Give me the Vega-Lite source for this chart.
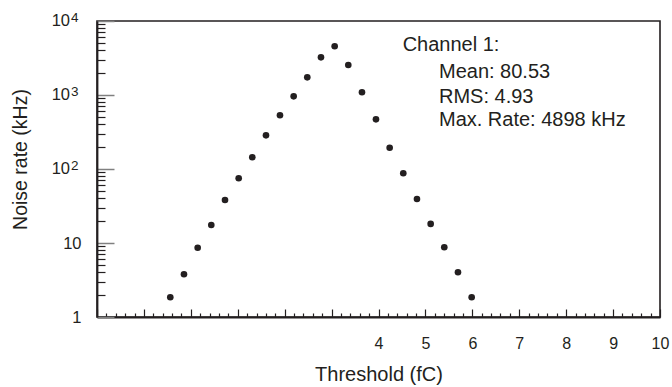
{
  "$schema": "https://vega.github.io/schema/vega-lite/v6.json",
  "width": 563,
  "height": 296,
  "autosize": {"type": "none"},
  "padding": {"left": 97, "top": 21, "right": 12, "bottom": 70},
  "background": "white",
  "config": {"view": {"stroke": "#231f20", "strokeWidth": 1.6}, "font": "Liberation Sans"},
  "datasets": {
    "points": [
      {"threshold": -0.438, "rate": 1.85},
      {"threshold": -0.146, "rate": 3.78},
      {"threshold": 0.146, "rate": 8.64},
      {"threshold": 0.436, "rate": 17.5},
      {"threshold": 0.728, "rate": 38.1},
      {"threshold": 1.020, "rate": 74.9},
      {"threshold": 1.310, "rate": 144},
      {"threshold": 1.602, "rate": 285},
      {"threshold": 1.900, "rate": 532},
      {"threshold": 2.192, "rate": 960},
      {"threshold": 2.482, "rate": 1734},
      {"threshold": 2.774, "rate": 3230},
      {"threshold": 3.066, "rate": 4550},
      {"threshold": 3.356, "rate": 2543},
      {"threshold": 3.648, "rate": 1088},
      {"threshold": 3.946, "rate": 469},
      {"threshold": 4.238, "rate": 194},
      {"threshold": 4.528, "rate": 87.5},
      {"threshold": 4.820, "rate": 39.3},
      {"threshold": 5.112, "rate": 18.1},
      {"threshold": 5.402, "rate": 8.75},
      {"threshold": 5.694, "rate": 4.02},
      {"threshold": 5.986, "rate": 1.85}
    ],
    "notes": [
      {"label": "Channel 1:", "x": 4.515, "y": 3970},
      {"label": "Mean: 80.53", "x": 5.289, "y": 1682},
      {"label": "RMS: 4.93", "x": 5.289, "y": 773},
      {"label": "Max. Rate: 4898 kHz", "x": 5.289, "y": 381}
    ],
    "powers": [
      {"v": 10000, "base": "10", "exp": "4"},
      {"v": 1000, "base": "10", "exp": "3"},
      {"v": 100, "base": "10", "exp": "2"}
    ]
  },
  "layer": [
    {
      "data": {"name": "points"},
      "mark": {"type": "circle", "size": 44, "color": "#231f20", "opacity": 1},
      "encoding": {
        "x": {
          "field": "threshold", "type": "quantitative",
          "scale": {"domain": [-2, 10], "nice": false, "zero": false},
          "axis": {
            "orient": "bottom", "grid": false,
            "values": [-2, -1, 0, 1, 2, 3, 4, 5, 6, 7, 8, 9, 10],
            "labelExpr": "datum.value >= 4 ? datum.label : ''",
            "tickSize": -8, "tickColor": "#231f20", "tickWidth": 1.2,
            "domainColor": "#231f20", "domainWidth": 1.8,
            "labelFont": "Liberation Sans", "labelFontSize": 16, "labelColor": "#231f20",
            "labelPadding": 26, "labelFlush": false, "labelOverlap": false, "labelBound": false,
            "title": "Threshold (fC)", "titleFont": "Liberation Sans", "titleFontSize": 20,
            "titleFontWeight": "normal", "titleColor": "#231f20",
            "titleY": 63, "titleBaseline": "alphabetic"
          }
        },
        "y": {
          "field": "rate", "type": "quantitative",
          "scale": {"type": "log", "domain": [1, 10000], "nice": false},
          "axis": {
            "orient": "left", "grid": false,
            "values": [1, 10, 100, 1000, 10000],
            "labelExpr": "datum.value == 10 ? '10' : datum.value == 1 ? '1' : ''",
            "tickSize": -17, "tickColor": "#808080", "tickWidth": 1.5,
            "domainColor": "#231f20", "domainWidth": 1.8,
            "labelFont": "Liberation Sans", "labelFontSize": 16.5, "labelColor": "#231f20",
            "labelPadding": 33, "labelFlush": false, "labelOverlap": false, "labelBound": false,
            "labelBaseline": "middle",
            "title": "Noise rate (kHz)", "titleFont": "Liberation Sans", "titleFontSize": 19.5,
            "titleFontWeight": "normal", "titleColor": "#231f20",
            "titleAngle": -90, "titleAlign": "center", "titleBaseline": "middle",
            "titleX": -77, "titleY": 138
          }
        }
      }
    },
    {
      "data": {"name": "notes"},
      "mark": {"type": "text", "align": "left", "baseline": "alphabetic", "fontSize": 20, "font": "Liberation Sans", "color": "#231f20"},
      "encoding": {
        "x": {
          "field": "x", "type": "quantitative",
          "scale": {"domain": [-2, 10], "nice": false, "zero": false},
          "axis": {
            "orient": "bottom", "grid": false, "labels": false, "domain": false, "title": null,
            "values": [-1.8,-1.6,-1.4,-1.2,-0.8,-0.6,-0.4,-0.2,0.2,0.4,0.6,0.8,1.2,1.4,1.6,1.8,2.2,2.4,2.6,2.8,3.2,3.4,3.6,3.8,4.2,4.4,4.6,4.8,5.2,5.4,5.6,5.8,6.2,6.4,6.6,6.8,7.2,7.4,7.6,7.8,8.2,8.4,8.6,8.8,9.2,9.4,9.6,9.8],
            "tickSize": -4, "tickColor": "#231f20", "tickWidth": 1.2
          }
        },
        "y": {
          "field": "y", "type": "quantitative",
          "scale": {"type": "log", "domain": [1, 10000], "nice": false},
          "axis": {
            "orient": "left", "grid": false, "labels": false, "domain": false, "title": null,
            "values": [2,3,4,5,6,7,8,9,20,30,40,50,60,70,80,90,200,300,400,500,600,700,800,900,2000,3000,4000,5000,6000,7000,8000,9000],
            "tickSize": -8, "tickColor": "#231f20", "tickWidth": 1.2
          }
        },
        "text": {"field": "label"}
      }
    },
    {
      "data": {"name": "powers"},
      "mark": {"type": "text", "align": "right", "baseline": "middle", "fontSize": 16.5, "font": "Liberation Sans", "color": "#231f20", "dx": -27},
      "encoding": {
        "x": {"datum": -2, "type": "quantitative", "scale": {"domain": [-2, 10], "nice": false, "zero": false}, "axis": null},
        "y": {"field": "v", "type": "quantitative", "scale": {"type": "log", "domain": [1, 10000], "nice": false}, "axis": null},
        "text": {"field": "base"}
      }
    },
    {
      "data": {"name": "powers"},
      "mark": {"type": "text", "align": "left", "baseline": "alphabetic", "fontSize": 13.5, "font": "Liberation Sans", "color": "#231f20", "dx": -26, "dy": 0.5},
      "encoding": {
        "x": {"datum": -2, "type": "quantitative", "scale": {"domain": [-2, 10], "nice": false, "zero": false}, "axis": null},
        "y": {"field": "v", "type": "quantitative", "scale": {"type": "log", "domain": [1, 10000], "nice": false}, "axis": null},
        "text": {"field": "exp"}
      }
    }
  ],
  "resolve": {"axis": {"x": "independent", "y": "independent"}}
}
